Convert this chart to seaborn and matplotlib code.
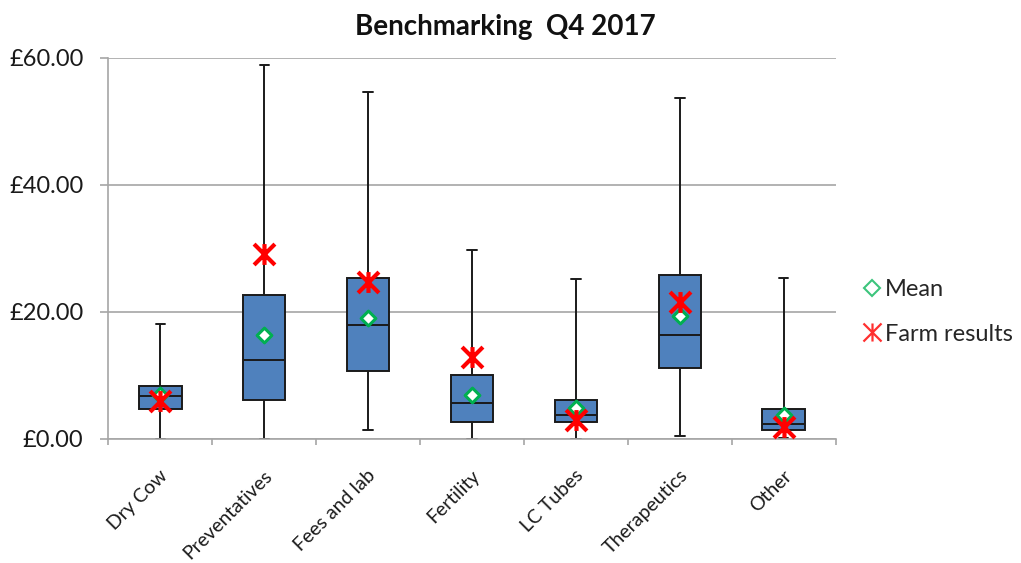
import numpy as np
import pandas as pd
import matplotlib.pyplot as plt
import seaborn as sns
from matplotlib.lines import Line2D
from matplotlib.path import Path
from matplotlib.ticker import FuncFormatter
from matplotlib.transforms import ScaledTranslation

# 카테고리 및 박스플롯 요약값 (min, q1, median, q3, max)
categories = ['Dry Cow', 'Preventatives', 'Fees and lab', 'Fertility',
              'LC Tubes', 'Therapeutics', 'Other']
whisker_low = [0.0, 0.0, 1.4, 0.0, 0.0, 0.5, 0.1]
q1 = [4.7, 6.1, 10.7, 2.6, 2.6, 11.1, 1.4]
median = [6.7, 12.5, 17.9, 5.7, 3.8, 16.3, 2.4]
q3 = [8.4, 22.7, 25.4, 10.1, 6.1, 25.8, 4.7]
whisker_high = [18.1, 58.8, 54.6, 29.7, 25.2, 53.6, 25.4]
means = [6.9, 16.3, 19.1, 6.9, 4.8, 19.3, 3.8]
farm_results = [6.0, 29.1, 24.7, 12.9, 3.0, 21.6, 1.9]

# 5개 요약값을 long format으로 (whis=(0,100)이면 그대로 재현됨)
rows = []
for i, cat in enumerate(categories):
    for v in (whisker_low[i], q1[i], median[i], q3[i], whisker_high[i]):
        rows.append({'category': cat, 'value': v})
df = pd.DataFrame(rows)

# 엑셀 스타일 별표 마커 (X + 세로선)
star_path = Path([(0, -1), (0, 1), (-1, -1), (1, 1), (-1, 1), (1, -1)],
                 [Path.MOVETO, Path.LINETO, Path.MOVETO, Path.LINETO,
                  Path.MOVETO, Path.LINETO])

sns.set_style('white')
plt.rcParams['font.family'] = ['Lato', 'DejaVu Sans']

fig = plt.figure(figsize=(10.21, 5.63), dpi=100)
ax = fig.add_axes([0.1061, 0.2203, 0.7124, 0.6772])

sns.boxplot(data=df, x='category', y='value', order=categories, whis=(0, 100),
            width=0.41, color='#4F81BD', saturation=1, linecolor='#1A1A1A',
            linewidth=1.4, showfliers=False, capwidths=0.09, ax=ax)

# 평균 (흰색 다이아몬드)
sns.stripplot(x=categories, y=means, order=categories, jitter=False,
              marker='D', color='white', edgecolor='#00B050', linewidth=2.2,
              size=7.5, zorder=4, ax=ax)

# 농장 결과 (빨간 별표)
sns.stripplot(x=categories, y=farm_results, order=categories, jitter=False,
              marker=star_path, color='#FF0000', edgecolor='#FF0000',
              linewidth=3, size=15, zorder=5, ax=ax)

ax.set_xlim(-0.5, len(categories) - 0.5)
ax.set_ylim(0, 60)
ax.set_yticks([0, 20, 40, 60])
ax.yaxis.set_major_formatter(FuncFormatter(lambda v, p: f'£{v:.2f}'))
ax.yaxis.grid(True, color='#A6A6A6', linewidth=1.2)
ax.set_axisbelow(True)
ax.set_xlabel('')
ax.set_ylabel('')

for side in ['top', 'right']:
    ax.spines[side].set_visible(False)
for side in ['left', 'bottom']:
    ax.spines[side].set_color('#A6A6A6')
    ax.spines[side].set_linewidth(1.2)

ax.tick_params(axis='y', which='major', left=True, length=6, width=1.2,
               color='#A6A6A6', labelsize=17, pad=12, labelcolor='#1A1A1A')
ax.set_xticks(np.arange(len(categories)))
ax.set_xticks(np.arange(len(categories) + 1) - 0.5, minor=True)
ax.tick_params(axis='x', which='major', bottom=False, length=0, labelsize=14,
               pad=0, labelcolor='#1A1A1A')
ax.tick_params(axis='x', which='minor', bottom=True, length=4.5, width=1.2,
               color='#A6A6A6')
ax.set_xticklabels(categories, rotation=45, ha='right', va='center',
                   rotation_mode='anchor')
shift = ScaledTranslation(0.05, -0.34, fig.dpi_scale_trans)
for lbl in ax.get_xticklabels():
    lbl.set_transform(lbl.get_transform() + shift)

fig.suptitle('Benchmarking  Q4 2017', x=0.495, y=0.975, fontsize=20,
             fontweight='bold', color='#111111')

handles = [
    Line2D([], [], linestyle='none', marker='D', markersize=8,
           markerfacecolor='white', markeredgecolor='#3CC47C', markeredgewidth=1.5),
    Line2D([], [], linestyle='none', marker=star_path, markersize=13,
           color='#FF3030', markeredgewidth=1.6),
]
fig.legend(handles, ['Mean', 'Farm results'], loc='center left',
           bbox_to_anchor=(0.832, 0.446), frameon=False, fontsize=17,
           borderpad=0, handletextpad=0.1, labelspacing=1.0, handlelength=0.9)

fig.savefig('out.png', dpi=100)
